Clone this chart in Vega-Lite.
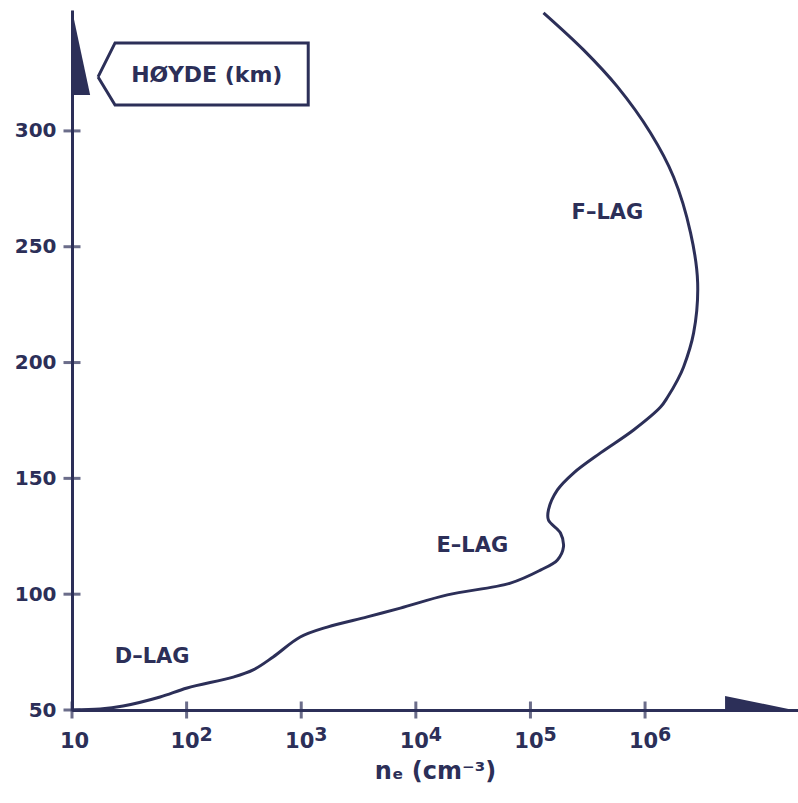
{
  "$schema": "https://vega.github.io/schema/vega-lite/v6.json",
  "width": 726,
  "height": 700,
  "autosize": "none",
  "padding": {"left": 72, "top": 10, "right": 0, "bottom": 93},
  "background": "white",
  "config": {
    "view": {"stroke": null},
    "font": "DejaVu Sans",
    "axis": {"grid": false, "ticks": false, "domainColor": "#2c2f58", "domainWidth": 3, "labelColor": "#2c2f58", "labelFont": "DejaVu Sans", "labelFontSize": 20, "labelFontWeight": "bold", "titleColor": "#2c2f58", "titleFont": "DejaVu Sans", "titleFontSize": 24, "titleFontWeight": "bold"}
  },
  "datasets": {
    "profile": [
      {"i": 1, "ne": 10, "km": 50},
      {"i": 2, "ne": 17.6, "km": 50.4},
      {"i": 3, "ne": 27.9, "km": 51.7},
      {"i": 4, "ne": 58.7, "km": 55.6},
      {"i": 5, "ne": 101, "km": 59.5},
      {"i": 6, "ne": 255, "km": 64.2},
      {"i": 7, "ne": 381, "km": 67.3},
      {"i": 8, "ne": 569, "km": 72.9},
      {"i": 9, "ne": 980, "km": 81.5},
      {"i": 10, "ne": 1687, "km": 85.8},
      {"i": 11, "ne": 3767, "km": 90.2},
      {"i": 12, "ne": 7328, "km": 94.0},
      {"i": 13, "ne": 18850, "km": 99.7},
      {"i": 14, "ne": 66830, "km": 104.8},
      {"i": 15, "ne": 122200, "km": 110.4},
      {"i": 16, "ne": 172000, "km": 114.8},
      {"i": 17, "ne": 194100, "km": 120.4},
      {"i": 18, "ne": 182800, "km": 126.4},
      {"i": 19, "ne": 143600, "km": 132.0},
      {"i": 20, "ne": 143600, "km": 136.4},
      {"i": 21, "ne": 172000, "km": 145.0},
      {"i": 22, "ne": 237700, "km": 152.3},
      {"i": 23, "ne": 408600, "km": 161.0},
      {"i": 24, "ne": 794300, "km": 170.9},
      {"i": 25, "ne": 1365000, "km": 180.8},
      {"i": 26, "ne": 1574000, "km": 185.1},
      {"i": 27, "ne": 1923000, "km": 192.5},
      {"i": 28, "ne": 2168000, "km": 198.1},
      {"i": 29, "ne": 2653000, "km": 212.8},
      {"i": 30, "ne": 2877000, "km": 234.4},
      {"i": 31, "ne": 2495000, "km": 256.0},
      {"i": 32, "ne": 1774000, "km": 280.1},
      {"i": 33, "ne": 1117000, "km": 299.1},
      {"i": 34, "ne": 575400, "km": 319.0},
      {"i": 35, "ne": 290400, "km": 335.0},
      {"i": 36, "ne": 130000, "km": 351.0}
    ],
    "yticks": [{"km": 50}, {"km": 100}, {"km": 150}, {"km": 200}, {"km": 250}, {"km": 300}],
    "xticks": [{"ne": 10}, {"ne": 100}, {"ne": 1000}, {"ne": 10000}, {"ne": 100000}, {"ne": 1000000}],
    "exponents": [{"ne": 100, "e": "2"}, {"ne": 1000, "e": "3"}, {"ne": 10000, "e": "4"}, {"ne": 100000, "e": "5"}, {"ne": 1000000, "e": "6"}],
    "yarrow": [{"km": 315.5, "x1": 10, "x2": 14.4}, {"km": 352.2, "x1": 10, "x2": 10}],
    "xarrow": [{"ne": 4990000, "y1": 49.2, "y2": 56.0}, {"ne": 21600000, "y1": 49.2, "y2": 49.6}],
    "box": [
      {"o": 1, "ne": 16.88, "km": 323.3},
      {"o": 2, "ne": 23.75, "km": 338.0},
      {"o": 3, "ne": 1151, "km": 338.0},
      {"o": 4, "ne": 1151, "km": 311.2},
      {"o": 5, "ne": 23.75, "km": 311.2},
      {"o": 6, "ne": 16.88, "km": 323.3}
    ],
    "layers": [
      {"ne": 50, "km": 72.9, "label": "D–LAG"},
      {"ne": 31120, "km": 120.8, "label": "E–LAG"},
      {"ne": 470000, "km": 264.6, "label": "F–LAG"}
    ],
    "ytitle": [{"ne": 150, "km": 324.2, "label": "HØYDE (km)"}]
  },
  "layer": [
    {
      "data": {"name": "profile"},
      "mark": {"type": "line", "color": "#2c2f58", "strokeWidth": 3, "interpolate": "catmull-rom"},
      "encoding": {
        "x": {"field": "ne", "type": "quantitative", "scale": {"type": "log", "domain": [10, 21600000], "nice": false},
          "axis": {"values": [10, 100, 1000, 10000, 100000, 1000000], "labelExpr": "'10'", "labelOffset": {"condition": {"test": "datum.value < 50", "value": 2}, "value": -2}, "labelFontSize": 21, "labelPadding": 20, "labelFlush": false, "labelOverlap": false, "title": "nₑ (cm⁻³)", "titlePadding": 8}},
        "y": {"field": "km", "type": "quantitative", "scale": {"domain": [50, 352.2], "nice": false, "zero": false},
          "axis": {"values": [50, 100, 150, 200, 250, 300], "labelPadding": 16, "labelFlush": false, "labelOverlap": false, "title": null}},
        "order": {"field": "i"}
      }
    },
    {
      "data": {"name": "exponents"},
      "mark": {"type": "text", "color": "#2c2f58", "font": "DejaVu Sans", "fontSize": 19, "fontWeight": "bold", "align": "left", "baseline": "middle", "dx": 13, "dy": 25},
      "encoding": {"x": {"field": "ne", "type": "quantitative"}, "y": {"datum": 50}, "text": {"field": "e"}}
    },
    {
      "data": {"name": "yticks"},
      "mark": {"type": "tick", "orient": "horizontal", "color": "#2c2f58", "size": 17, "thickness": 3},
      "encoding": {"y": {"field": "km", "type": "quantitative"}, "x": {"datum": 10}}
    },
    {
      "data": {"name": "xticks"},
      "mark": {"type": "tick", "orient": "vertical", "color": "#2c2f58", "size": 17, "thickness": 3},
      "encoding": {"x": {"field": "ne", "type": "quantitative"}, "y": {"datum": 50}}
    },
    {
      "data": {"name": "yarrow"},
      "mark": {"type": "area", "orient": "horizontal", "color": "#2c2f58"},
      "encoding": {"y": {"field": "km", "type": "quantitative"}, "x": {"field": "x1", "type": "quantitative"}, "x2": {"field": "x2"}}
    },
    {
      "data": {"name": "xarrow"},
      "mark": {"type": "area", "orient": "vertical", "color": "#2c2f58"},
      "encoding": {"x": {"field": "ne", "type": "quantitative"}, "y": {"field": "y2", "type": "quantitative"}, "y2": {"field": "y1"}}
    },
    {
      "data": {"name": "box"},
      "mark": {"type": "line", "color": "#2c2f58", "strokeWidth": 3, "strokeJoin": "miter"},
      "encoding": {"x": {"field": "ne", "type": "quantitative"}, "y": {"field": "km", "type": "quantitative"}, "order": {"field": "o"}}
    },
    {
      "data": {"name": "ytitle"},
      "mark": {"type": "text", "color": "#2c2f58", "font": "DejaVu Sans", "fontSize": 22, "fontWeight": "bold", "align": "center", "baseline": "middle"},
      "encoding": {"x": {"field": "ne", "type": "quantitative"}, "y": {"field": "km", "type": "quantitative"}, "text": {"field": "label"}}
    },
    {
      "data": {"name": "layers"},
      "mark": {"type": "text", "color": "#2c2f58", "font": "DejaVu Sans", "fontSize": 21, "fontWeight": "bold", "align": "center", "baseline": "middle"},
      "encoding": {"x": {"field": "ne", "type": "quantitative"}, "y": {"field": "km", "type": "quantitative"}, "text": {"field": "label"}}
    }
  ]
}
